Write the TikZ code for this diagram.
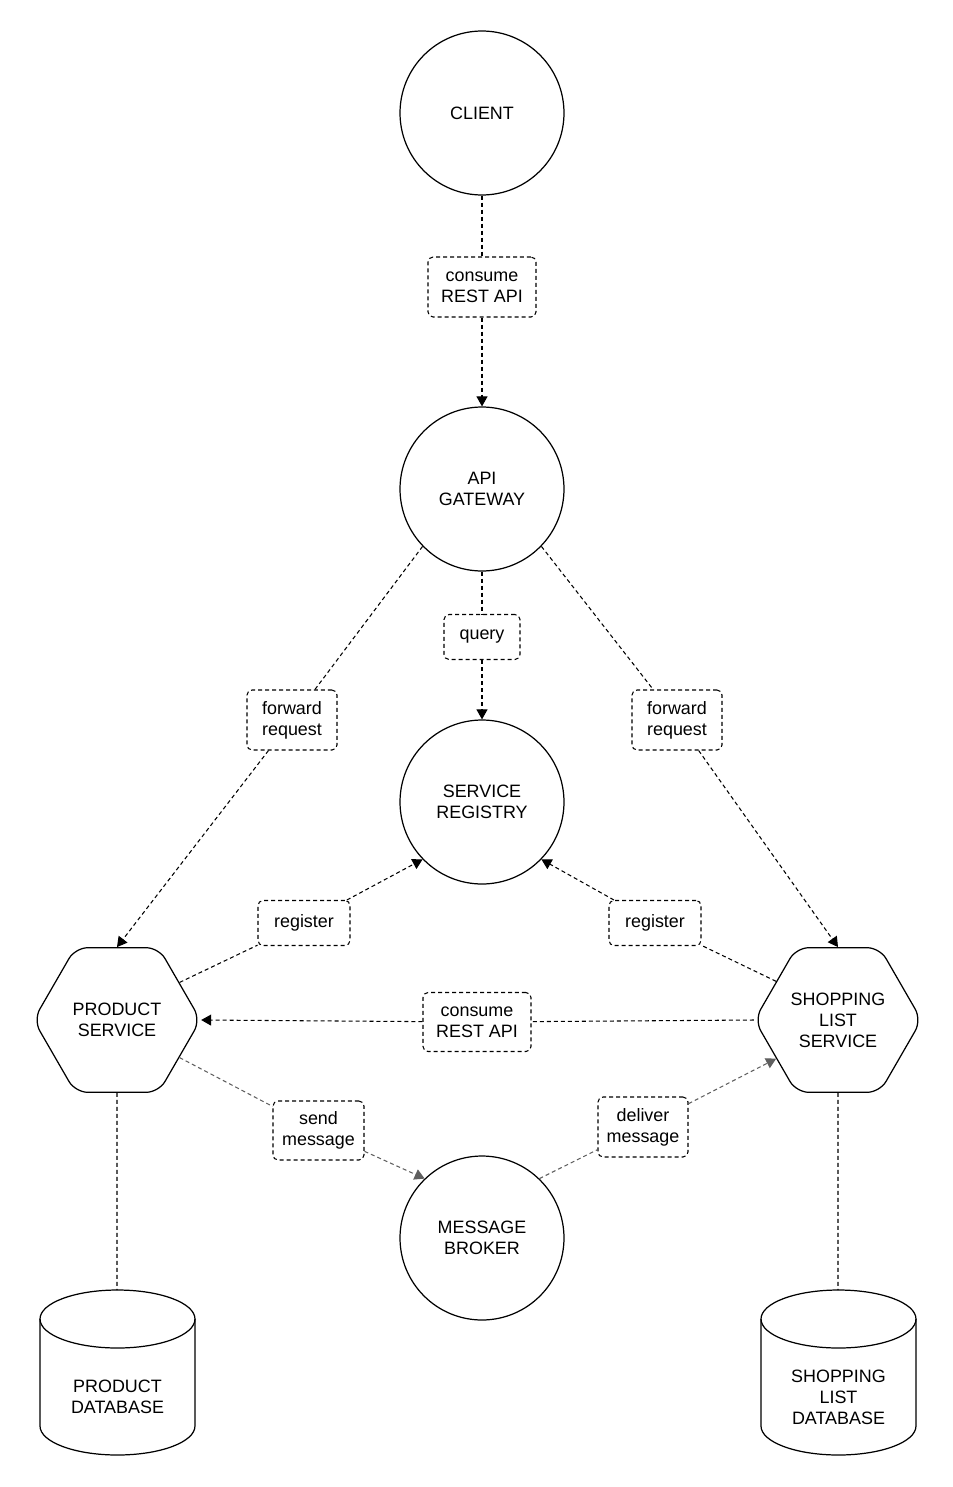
\documentclass[tikz,border=0pt]{standalone}
\usepackage{fontspec}
\setmainfont{Liberation Sans}
\usetikzlibrary{arrows.meta,shapes.geometric}
\definecolor{msggray}{RGB}{95,95,95}
\begin{document}
\begin{tikzpicture}[x=0.02cm, y=-0.02cm,
% common options for the circles:
ball/.style = {circle, draw, line width=0.7pt, minimum size=3.28cm, align=center,
            inner sep=0, font=\fontsize{10.2}{12}\selectfont},
% common options for the services:
hexa/.style = {regular polygon, regular polygon sides=6, draw, line width=0.7pt,
            minimum size=3.34cm, rounded corners=0.25cm, align=center, inner sep=0,
            font=\fontsize{10.2}{12}\selectfont},
% common options for the label boxes:
tag/.style = {rectangle, draw, dash pattern=on 0.08cm off 0.06cm, line width=0.6pt,
            rounded corners=0.1cm, fill=white, align=center, inner sep=0,
            minimum width=1.8cm, minimum height=1.2cm, font=\fontsize{10.2}{12}\selectfont},
% common options for the connectors:
link/.style = {dash pattern=on 0.08cm off 0.06cm, line width=0.6pt},
msgline/.style = {link, draw=msggray},
arrowed/.style = {-{Triangle[length=0.2cm, width=0.22cm]}}]
\useasboundingbox (0,0) rectangle (953,1487);
\node[ball] (client) at (482,113) {CLIENT};
\node[ball] (gw) at (482,489) {API\\GATEWAY};
\node[ball] (sr) at (482,802) {SERVICE\\REGISTRY};
\node[ball] (mb) at (482,1238) {MESSAGE\\BROKER};
\node[hexa] (ps) at (117,1020) {PRODUCT\\SERVICE};
\node[hexa] (sl) at (838,1020) {SHOPPING\\LIST\\SERVICE};
% databases
\node[align=center, font=\fontsize{10.2}{12}\selectfont] (pdb) at (117.5,1397) {PRODUCT\\DATABASE};
\node[align=center, font=\fontsize{10.2}{12}\selectfont] (sldb) at (838.5,1397) {SHOPPING\\LIST\\DATABASE};
\coordinate (pdbtop) at (117,1290);
\coordinate (sldbtop) at (838,1290);
\draw[line width=0.7pt] (40,1319) -- (40,1426) arc[start angle=180, end angle=360, x radius=1.55cm, y radius=0.58cm] -- (195,1319);
\draw[line width=0.7pt] (117.5,1319) ellipse[x radius=1.55cm, y radius=0.58cm];
\draw[line width=0.7pt] (761,1319) -- (761,1426) arc[start angle=180, end angle=360, x radius=1.55cm, y radius=0.58cm] -- (916,1319);
\draw[line width=0.7pt] (838.5,1319) ellipse[x radius=1.55cm, y radius=0.58cm];
% labels
\node[tag, minimum width=2.16cm] (cons1) at (482,287) {consume\\REST API};
\node[tag, minimum width=1.52cm, minimum height=0.9cm] (query) at (482,637) {query};
\node[tag] (fwdl) at (292,720) {forward\\request};
\node[tag] (fwdr) at (677,720) {forward\\request};
\node[tag, minimum width=1.84cm, minimum height=0.9cm] (regl) at (304,923) {register};
\node[tag, minimum width=1.84cm, minimum height=0.9cm] (regr) at (655,923) {register};
\node[tag, minimum width=2.16cm, minimum height=1.18cm] (cons2) at (477,1022) {consume\\REST API};
\node[tag, minimum width=1.82cm, minimum height=1.18cm] (sendl) at (318.5,1130.5) {send\\message};
\node[tag] (delr) at (643,1127) {deliver\\message};
% connectors
\draw[link] (client) to (cons1);
\draw[link, arrowed] (cons1) to (gw);
\draw[link] (gw) to (query);
\draw[link, arrowed] (query) to (sr);
\draw[link] (gw.224) to (fwdl);
\draw[link, arrowed] (fwdl) to (ps.north);
\draw[link] (gw.316) to (fwdr);
\draw[link, arrowed] (fwdr) to (sl.north);
\draw[link] (ps.31) to (regl);
\draw[link, arrowed] (regl) to (sr.224);
\draw[link] (sl.148) to (regr);
\draw[link, arrowed] (regr) to (sr.316);
\draw[link] (sl.west) to (cons2);
\draw[link, arrowed] (cons2) to (ps.east);
\draw[msgline] (ps.329) to (sendl);
\draw[msgline, arrowed] (sendl) to (mb.134);
\draw[msgline] (mb.46) to (delr);
\draw[msgline, arrowed] (delr) to (sl.212);
\draw[link] (ps.south) to (pdbtop);
\draw[link] (sl.south) to (sldbtop);
\end{tikzpicture}
\end{document}
